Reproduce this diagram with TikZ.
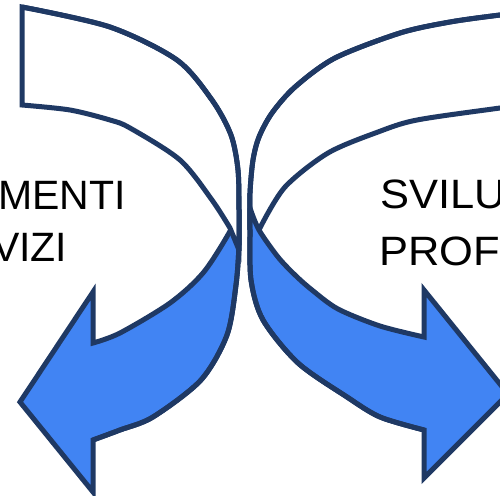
\documentclass[tikz,border=0pt]{standalone}
\usepackage{fontspec}
\setmainfont{Liberation Sans}
\definecolor{edge}{RGB}{31,57,100}
\definecolor{bandblue}{RGB}{65,132,243}
\tikzset{
  band/.style={draw=edge, line width=5pt, line join=miter},
  backband/.style={band, fill=white},
  frontband/.style={band, fill=bandblue},
  rim/.style={draw=edge, line width=5pt},
  lbl/.style={anchor=base west, inner sep=0pt, text=black,
    font=\fontsize{41}{50}\selectfont},
  widelbl/.style={lbl, xscale=1.06}
}
\begin{document}
\begin{tikzpicture}[x=1pt, y=-1pt]
\useasboundingbox (0,0) rectangle (500,495);
\clip (0,0) rectangle (500,495);

% ---- left curved arrow: front (blue) part with head pointing left
\path[frontband]
  plot[smooth] coordinates {(239,210) (239,245) (236,285) (227,335) (201,380) (153,417) (120,430) (93,440)}
  -- (93,492) -- (20,402) -- (93,292) -- (93,343)
  -- plot[smooth] coordinates {(93,343) (120,333) (170,303) (203,273) (229,233) (239,210)}
  -- cycle;
% back (white) part of the band
\path[backband]
  (22,105) -- (22,7)
  -- plot[smooth] coordinates {(22,7) (110,27) (177,60) (212,100) (231,135) (238,170) (239,210) (239,250)}
  -- plot[smooth] coordinates {(230,228) (212,200) (180,160) (130,128) (110,120) (70,110) (22,105)}
  -- cycle;
\draw[rim] plot[smooth] coordinates {(22,7) (110,27) (177,60) (212,100) (231,135) (238,170) (239,210) (239,245) (236,285) (227,335) (201,380) (153,417) (120,430) (93,440)};

% ---- right curved arrow: back (white) part of the band
\path[backband]
  plot[smooth] coordinates {(560,8) (500,15) (450,22) (400,33) (335,58) (295,87) (272,113) (259,137) (253,160) (250,193) (250,230) (251,245)}
  -- (261,226)
  -- plot[smooth] coordinates {(261,226) (285,187) (328,153) (378,132) (417,120) (500,108) (560,100)}
  -- cycle;
% front (blue) part with head pointing right
\path[frontband]
  plot[smooth] coordinates {(250,208) (250,230) (251,280) (263,320) (298,363) (347,397) (380,417) (424,430)}
  -- (424,478) -- (508,394) -- (424,290) -- (424,337)
  -- plot[smooth] coordinates {(424,337) (380,326) (338,309) (312,290) (295,275) (278,257) (259,230) (250,208)}
  -- cycle;
\draw[rim] plot[smooth] coordinates {(560,8) (500,15) (450,22) (400,33) (335,58) (295,87) (272,113) (259,137) (253,160) (250,193) (250,230) (251,280) (263,320) (298,363) (347,397) (380,417) (424,430)};

% ---- labels
\node[lbl] (l1) at (-2,209.5) {MENTI};
\node[lbl] (l2) at (-8,261) {VIZI};
\node[widelbl] (r1) at (380,208) {SVILU};
\node[widelbl] (r2) at (379,265) {PROF};
\end{tikzpicture}
\end{document}
